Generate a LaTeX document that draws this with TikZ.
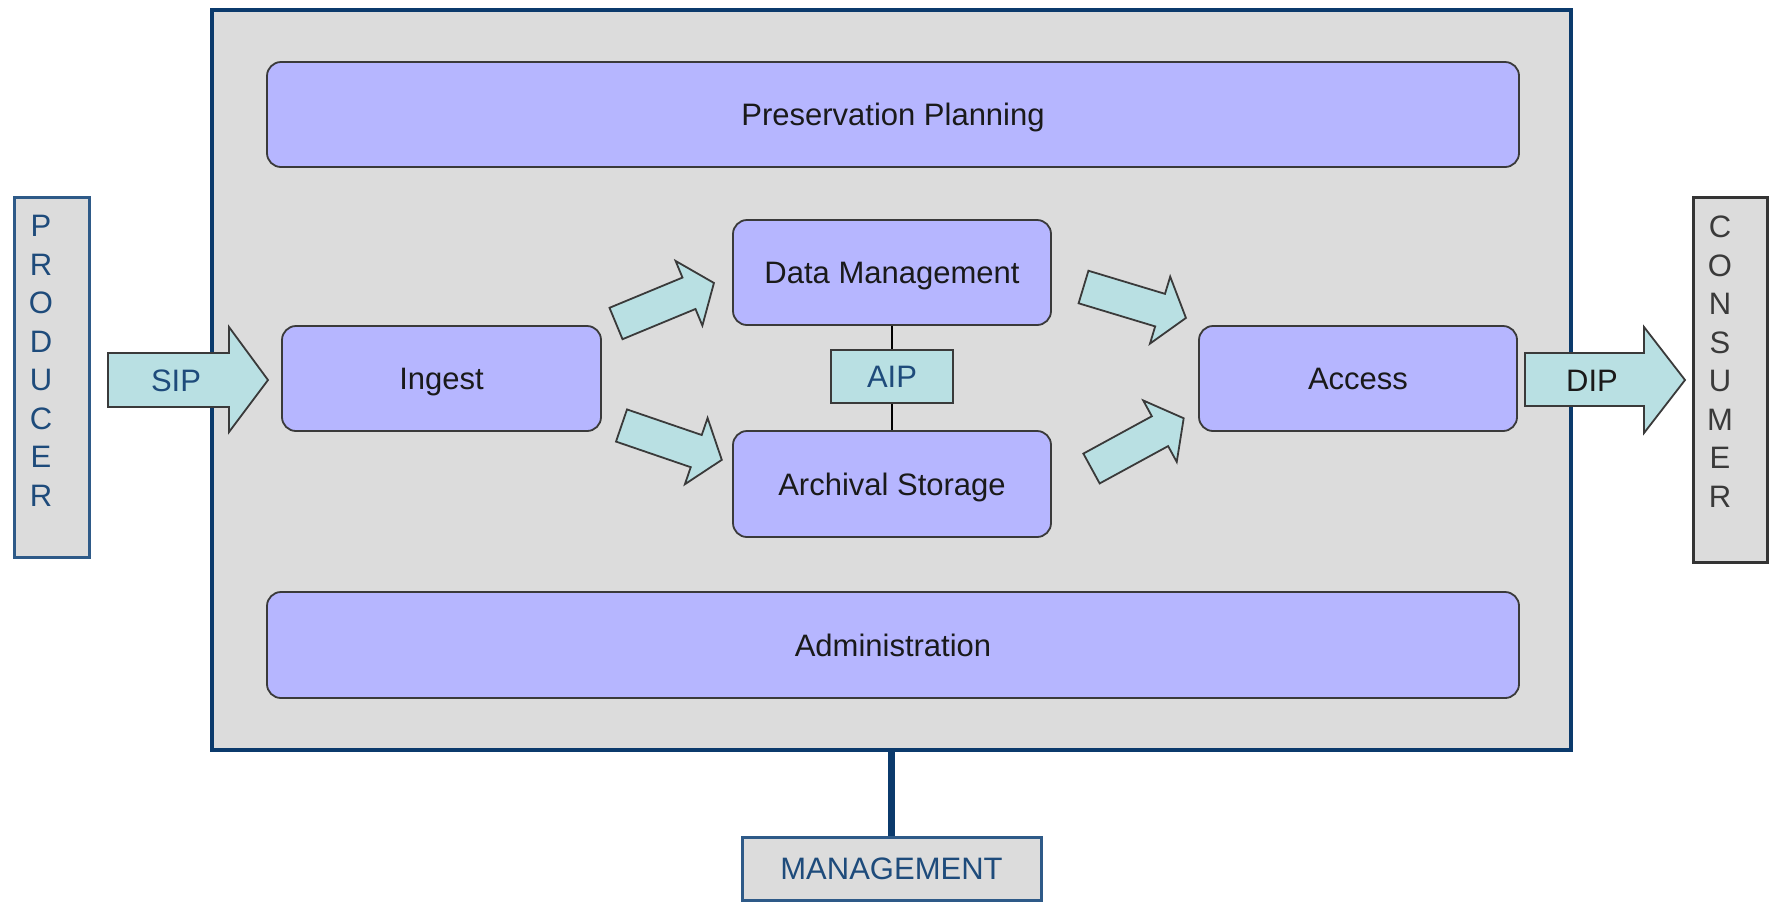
\documentclass[tikz,border=0pt]{standalone}
\usepackage{fontspec}
\setmainfont{Liberation Sans}
\definecolor{bgray}{HTML}{DCDCDC}
\definecolor{navy}{HTML}{0B3A6C}
\definecolor{boxfill}{HTML}{B6B6FF}
\definecolor{boxline}{HTML}{3A3A3A}
\definecolor{arrowfill}{HTML}{B9E0E3}
\definecolor{bluetext}{HTML}{1E4B7B}
\definecolor{prodline}{HTML}{2E5A88}
\definecolor{labeltext}{HTML}{1A1A1A}
\newcommand\blockarr[3]{%
  \draw[arrowshape, shift={#1}, rotate=#2]
    (0,-17) -- ({#3-27},-17) -- ({#3-27},-35) -- (#3,0) --
    ({#3-27},35) -- ({#3-27},17) -- (0,17) -- cycle;}
\begin{document}
\begin{tikzpicture}[x=0.5pt,y=-0.5pt,
  lbl/.style={font=\fontsize{15.5}{19.25}\selectfont},
  capc/.style={text height=11.1pt, text depth=0pt},
  pbox/.style={draw=boxline, line width=0.9pt, fill=boxfill, rounded corners=7pt,
    inner sep=0pt, lbl, capc, text=labeltext},
  arrowshape/.style={draw=boxline, line width=0.9pt, fill=arrowfill, line join=miter},
  sidebox/.style={line width=1.5pt, fill=bgray, inner sep=0pt}]
\fill[white] (0,0) rectangle (1770,902);
\useasboundingbox (0,0) rectangle (1770,902);

% main repository box
\node[draw=navy, line width=2.25pt, fill=bgray, inner sep=0pt,
  minimum width=679.5pt, minimum height=370pt] (main) at (891.5,380) {};

% functional entities
\node[pbox, minimum width=626pt, minimum height=52.5pt] (pp) at (893,114.5) {Preservation Planning};
\node[pbox, minimum width=626pt, minimum height=53pt] (adm) at (893,645) {Administration};
\node[pbox, minimum width=159pt, minimum height=52.5pt] (dm) at (892,272.5) {Data Management};
\node[pbox, minimum width=159pt, minimum height=53pt] (as) at (892,484) {Archival Storage};
\node[pbox, minimum width=159.5pt, minimum height=52.5pt] (ing) at (441.5,378.5) {Ingest};
\node[pbox, minimum width=159pt, minimum height=52.5pt] (acc) at (1358,378.5) {Access};

% AIP
\node[draw=boxline, line width=0.9pt, fill=arrowfill, inner sep=0pt, lbl, capc, text=bluetext,
  minimum width=61pt, minimum height=26.5pt] (aip) at (892,376.5) {AIP};
\draw[line width=0.7pt, black] (dm.south) -- (aip.north);
\draw[line width=0.7pt, black] (aip.south) -- (as.north);

% internal block arrows
\blockarr{(616,323.5)}{22.5}{106}
\blockarr{(621.5,425.5)}{-18.9}{106}
\blockarr{(1083.5,287)}{-16.8}{107}
\blockarr{(1091.5,468.5)}{28.6}{105}

% producer / consumer
\node[sidebox, draw=prodline, minimum width=37.5pt, minimum height=180pt] (prod) at (51.5,377) {};
\node[lbl, text=bluetext, align=center, inner sep=0pt] (prodtxt) at (41,361) {P\\R\\O\\D\\U\\C\\E\\R};
\node[sidebox, draw=boxline!90!black, minimum width=37pt, minimum height=182.5pt] (cons) at (1730,379.5) {};
\node[lbl, text=boxline, align=center, inner sep=0pt] (constxt) at (1720,361.5) {C\\O\\N\\S\\U\\M\\E\\R};

% SIP arrow
\draw[arrowshape] (108,353) -- (229,353) -- (229,327) -- (268,380) -- (229,432) -- (229,407) -- (108,407) -- cycle;
\node[lbl, capc, text=bluetext] (sip) at (176,380) {SIP};
% DIP arrow
\draw[arrowshape] (1525,353) -- (1644,353) -- (1644,327) -- (1685,380) -- (1644,433) -- (1644,406) -- (1525,406) -- cycle;
\node[lbl, capc, text=labeltext] (dip) at (1592,380) {DIP};

% management
\node[sidebox, draw=prodline, lbl, capc, text=bluetext, minimum width=149.5pt, minimum height=31.5pt] (mgmt) at (891.5,868.5) {MANAGEMENT};
\draw[navy, line width=3.5pt] (main.south) -- (mgmt.north);
\end{tikzpicture}
\end{document}
